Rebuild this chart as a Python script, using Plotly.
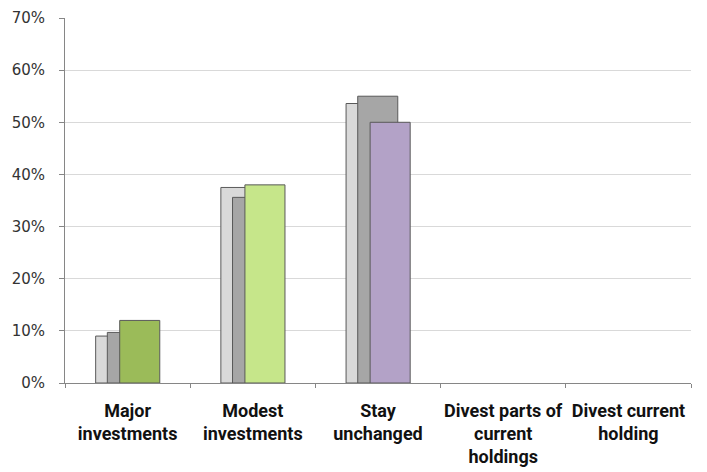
import plotly.graph_objects as go

categories = ["Major<br>investments", "Modest<br>investments", "Stay<br>unchanged",
              "Divest parts of<br>current<br>holdings", "Divest current<br>holding"]
series_a = [0.090, 0.375, 0.536, None, None]   # light gray
series_b = [0.097, 0.356, 0.550, None, None]   # dark gray
series_c = [0.120, 0.380, 0.500, None, None]   # coloured
series_c_colors = ["#9bbb59", "#c6e68a", "#b3a2c7", "#b3a2c7", "#b3a2c7"]
y_ticks = [0, 0.1, 0.2, 0.3, 0.4, 0.5, 0.6, 0.7]

fig = go.Figure()
bw = 0.32
edge = dict(color="#595959", width=1)
fig.add_trace(go.Bar(x=categories, y=series_a, width=bw, offset=-0.255,
                     marker=dict(color="#d9d9d9", line=edge), name="A"))
fig.add_trace(go.Bar(x=categories, y=series_b, width=bw, offset=-0.162,
                     marker=dict(color="#a6a6a6", line=edge), name="B"))
fig.add_trace(go.Bar(x=categories, y=series_c, width=bw, offset=-0.063,
                     marker=dict(color=series_c_colors, line=edge), name="C"))

fig.update_layout(
    width=707, height=472,
    margin=dict(l=65, r=16, t=18, b=89),
    barmode="overlay",
    showlegend=False,
    plot_bgcolor="white", paper_bgcolor="white",
    font=dict(family="DejaVu Sans", color="#333333"),
)
fig.update_xaxes(
    type="category", tickson="boundaries", ticks="outside", ticklen=4,
    tickcolor="#868686", showline=True, linecolor="#868686", linewidth=1,
    showgrid=False, automargin=False, tickangle=0, ticklabelstandoff=11,
    tickfont=dict(family="Roboto", size=18, color="#111111", weight="bold"),
)
fig.update_yaxes(
    range=[0, 0.7], tickvals=y_ticks, tickformat=".0%",
    ticks="outside", ticklen=5, tickcolor="#868686",
    showline=True, linecolor="#868686", linewidth=1,
    showgrid=True, gridcolor="#d9d9d9", gridwidth=1, zeroline=False,
    automargin=False,
    tickfont=dict(family="DejaVu Sans", size=15, color="#333333"),
    ticklabelstandoff=11,
)
fig.write_html("out.html",
               config={"displayModeBar": False},
               post_script="document.body.style.margin='0';document.body.style.overflow='hidden';")
